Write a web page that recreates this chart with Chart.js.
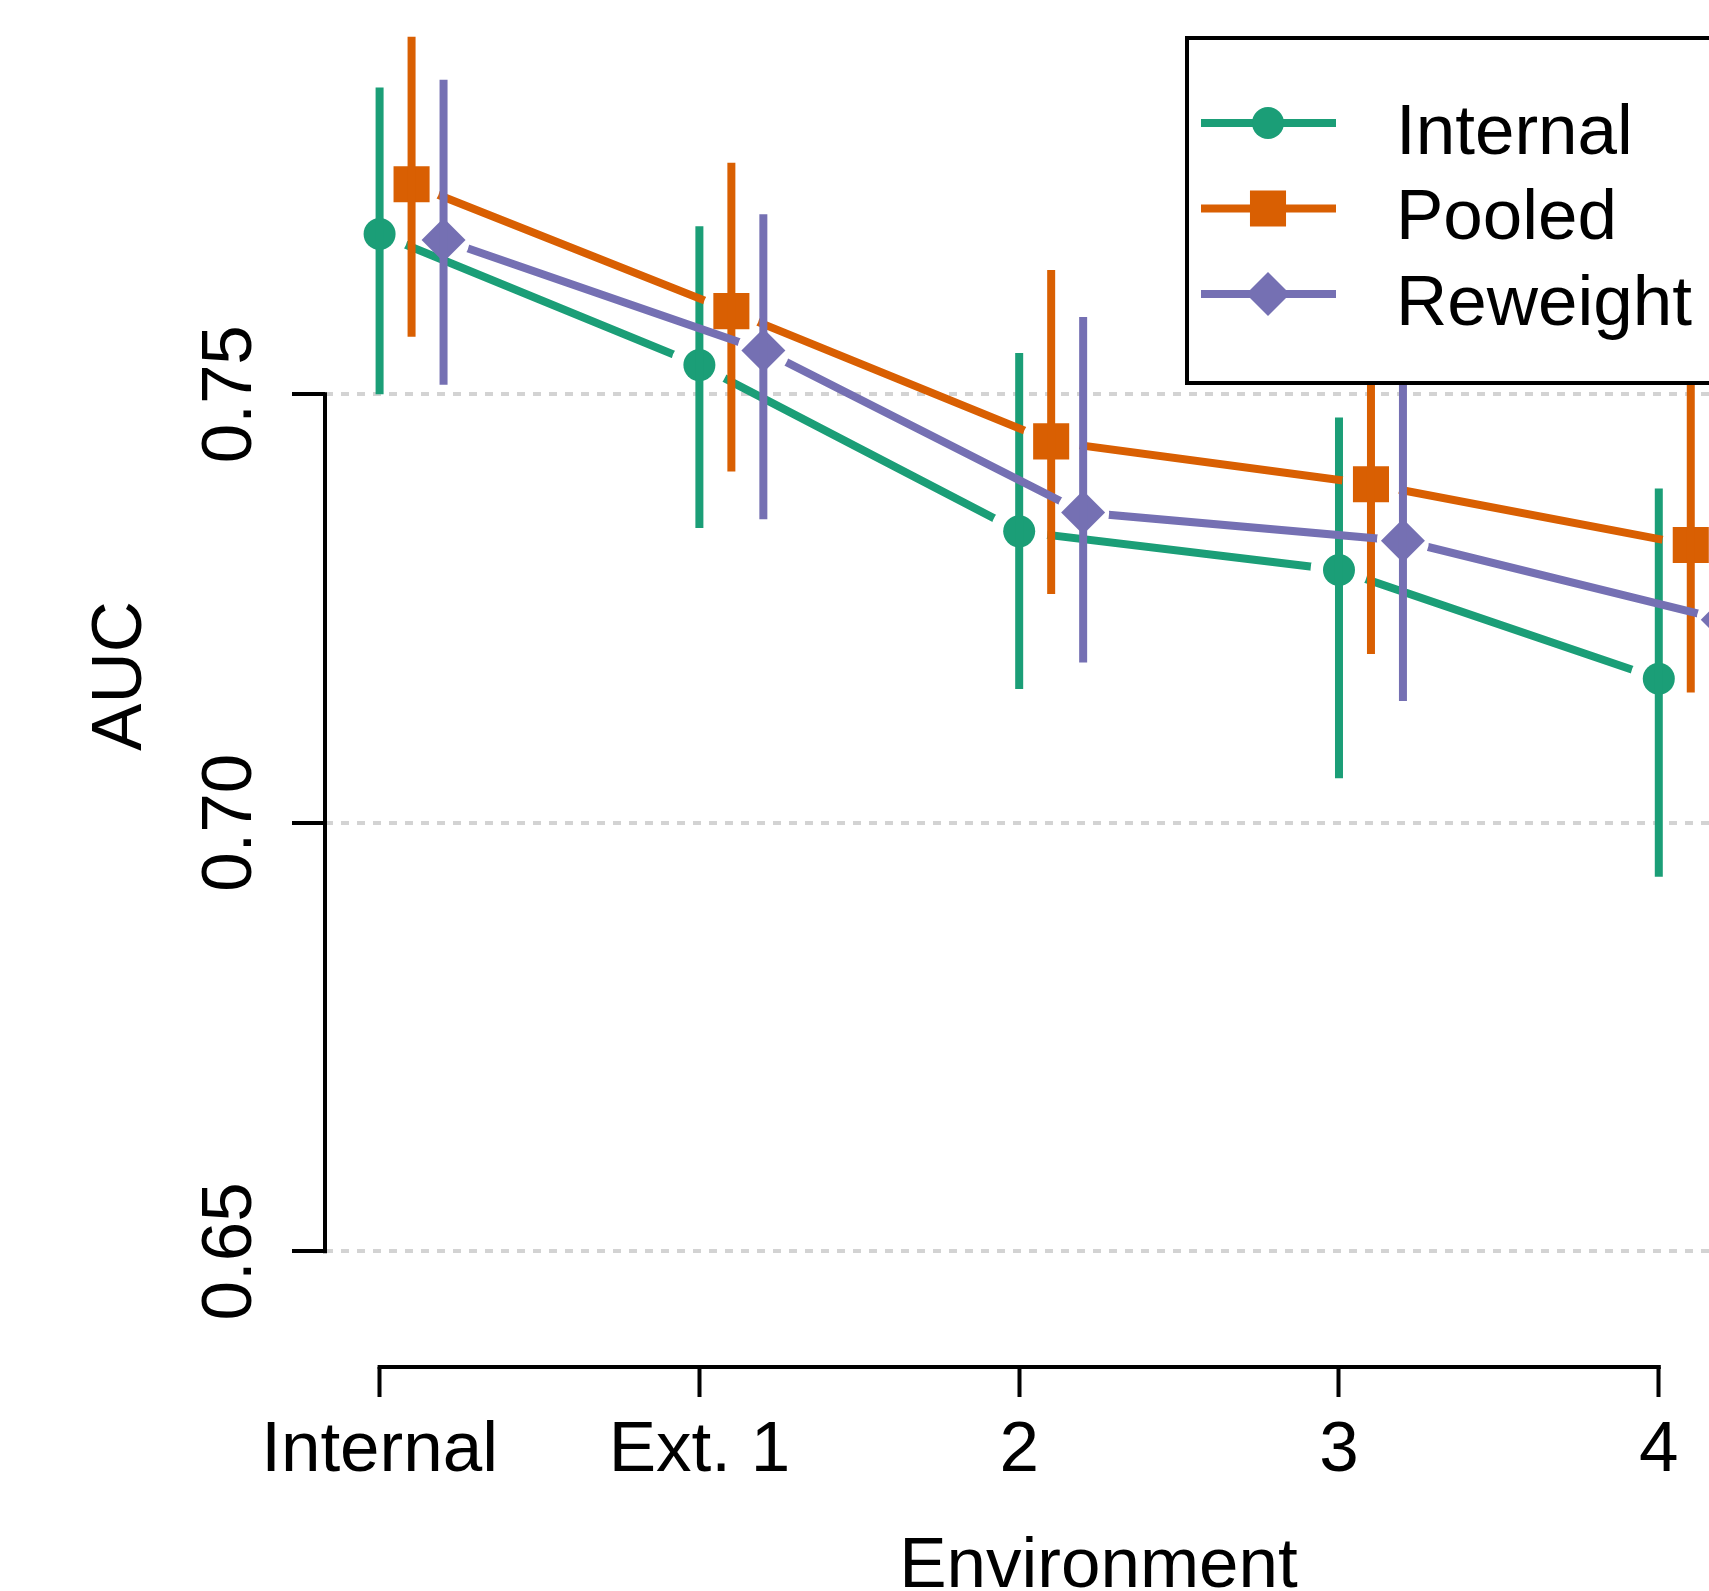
<!DOCTYPE html>
<html>
<head>
<meta charset="utf-8">
<title>AUC by environment</title>
<script src="https://cdn.jsdelivr.net/npm/chart.js@4.4.1/dist/chart.umd.min.js"></script>
<style>
  html, body { margin: 0; padding: 0; background: #fff; overflow: hidden; }
  #wrap { position: relative; width: 1709px; height: 1591px; overflow: hidden; background: #fff; }
  #auc-chart { position: absolute; left: 0; top: -15px; }
</style>
</head>
<body>
<div id="wrap"><canvas id="auc-chart" width="1900" height="1650"></canvas></div>
<script>
// categories on the x axis and the three models
var environments = ["Internal", "Ext. 1", "2", "3", "4"];
var modelNames = ["Internal", "Pooled", "Reweight"];
var yTickValues = [0.65, 0.70, 0.75];

// AUC with lower / upper interval
var internalAuc  = [0.7687, 0.7534, 0.7340, 0.7295, 0.7168];
var internalLow  = [0.7500, 0.7344, 0.7156, 0.7052, 0.6937];
var internalHigh = [0.7858, 0.7696, 0.7548, 0.7473, 0.7390];

var pooledAuc  = [0.7745, 0.7597, 0.7445, 0.7395, 0.7324];
var pooledLow  = [0.7567, 0.7410, 0.7267, 0.7197, 0.7152];
var pooledHigh = [0.7917, 0.7770, 0.7645, 0.7593, 0.7530];

var reweightAuc  = [0.7680, 0.7551, 0.7362, 0.7329, 0.7237];
var reweightLow  = [0.7511, 0.7354, 0.7187, 0.7142, 0.7050];
var reweightHigh = [0.7867, 0.7710, 0.7590, 0.7530, 0.7420];

var aucSeries  = [internalAuc, pooledAuc, reweightAuc];
var lowSeries  = [internalLow, pooledLow, reweightLow];
var highSeries = [internalHigh, pooledHigh, reweightHigh];

// styling
var colors = ["#1b9e77", "#d95f02", "#7570b3"];
var markerStyles = ["circle", "rect", "rectRot"];
var markerRadius = [16, 25.5, 22];
var gapRadius = [28.5, 29, 26];
var xShift = [0, 0.1, 0.2];
var fontFamily = "'Liberation Sans', Arial, Helvetica, sans-serif";

Chart.defaults.font.family = fontFamily;
Chart.defaults.font.size = 71;
Chart.defaults.color = "#000";

function points(s) {
    return aucSeries[s].map(function (v, i) {
        return { x: i + 1 + xShift[s], y: v };
    });
}

var datasets = [];
modelNames.forEach(function (name, s) {
    datasets.push({
        label: name, kind: "line", series: s,
        data: points(s),
        borderColor: colors[s], borderWidth: 8,
        pointRadius: 0, tension: 0, fill: false,
        order: 6 - 2 * s
    });
    datasets.push({
        label: name, kind: "marker", series: s,
        data: points(s),
        showLine: false,
        pointStyle: markerStyles[s], pointRadius: markerRadius[s],
        pointBackgroundColor: colors[s], pointBorderWidth: 0,
        order: 5 - 2 * s
    });
});

function drawMarker(ctx, style, x, y, r) {
    ctx.beginPath();
    if (style === "circle") {
        ctx.arc(x, y, r, 0, Math.PI * 2);
    } else if (style === "rect") {
        var h = r * Math.SQRT1_2;
        ctx.rect(x - h, y - h, 2 * h, 2 * h);
    } else {
        ctx.moveTo(x - r, y);
        ctx.lineTo(x, y - r);
        ctx.lineTo(x + r, y);
        ctx.lineTo(x, y + r);
        ctx.closePath();
    }
    ctx.fill();
}

// lines stop short of the points (R type="b"), error bars drawn per model
var errorBarPlugin = {
    id: "errorBars",
    beforeDatasetDraw: function (chart, args) {
        var ds = chart.data.datasets[args.index];
        if (ds.kind !== "line") return;
        var ctx = chart.ctx;
        var g = gapRadius[ds.series];
        ctx.save();
        ctx.beginPath();
        ctx.rect(0, 0, chart.width, chart.height);
        args.meta.data.forEach(function (pt) {
            ctx.moveTo(pt.x + g, pt.y);
            ctx.arc(pt.x, pt.y, g, 0, Math.PI * 2);
        });
        ctx.clip("evenodd");
    },
    afterDatasetDraw: function (chart, args) {
        var ds = chart.data.datasets[args.index];
        var ctx = chart.ctx;
        if (ds.kind === "line") {
            ctx.restore();
            return;
        }
        var s = ds.series;
        var xs = chart.scales.x, ys = chart.scales.y;
        ctx.save();
        ctx.strokeStyle = colors[s];
        ctx.lineWidth = 8;
        lowSeries[s].forEach(function (lo, i) {
            var px = xs.getPixelForValue(i + 1 + xShift[s]);
            ctx.beginPath();
            ctx.moveTo(px, ys.getPixelForValue(lo));
            ctx.lineTo(px, ys.getPixelForValue(highSeries[s][i]));
            ctx.stroke();
        });
        ctx.restore();
    },
    afterDraw: function (chart) {
        var ctx = chart.ctx;
        var xs = chart.scales.x, ys = chart.scales.y;
        var area = chart.chartArea;

        // axis lines only over the tick range
        ctx.save();
        ctx.strokeStyle = "#000";
        ctx.lineWidth = 4;
        ctx.lineCap = "square";
        ctx.beginPath();
        ctx.moveTo(area.left, ys.getPixelForValue(yTickValues[0]));
        ctx.lineTo(area.left, ys.getPixelForValue(yTickValues[yTickValues.length - 1]));
        ctx.moveTo(xs.getPixelForValue(1), area.bottom);
        ctx.lineTo(xs.getPixelForValue(environments.length), area.bottom);
        ctx.stroke();
        ctx.restore();

        // legend box
        var boxLeft = 1187, boxTop = 53, boxBottom = 398, boxRight = 1880;
        ctx.save();
        ctx.fillStyle = "#fff";
        ctx.fillRect(boxLeft, boxTop, boxRight - boxLeft, boxBottom - boxTop);
        ctx.strokeStyle = "#000";
        ctx.lineWidth = 4;
        ctx.strokeRect(boxLeft, boxTop, boxRight - boxLeft, boxBottom - boxTop);
        ctx.font = "71px " + fontFamily;
        ctx.textBaseline = "alphabetic";
        ctx.textAlign = "left";
        modelNames.forEach(function (name, s) {
            var rowY = 138 + s * 85.5;
            ctx.strokeStyle = colors[s];
            ctx.fillStyle = colors[s];
            ctx.lineWidth = 8;
            ctx.beginPath();
            ctx.moveTo(1201, rowY);
            ctx.lineTo(1336, rowY);
            ctx.stroke();
            drawMarker(ctx, markerStyles[s], 1268, rowY, markerRadius[s]);
            ctx.fillStyle = "#000";
            ctx.fillText(name, 1396, rowY + 30.5);
        });
        ctx.restore();
    }
};

var ctx = document.getElementById("auc-chart").getContext("2d");
var aucChart = new Chart(ctx, {
    type: "line",
    data: { datasets: datasets },
    plugins: [errorBarPlugin],
    options: {
        responsive: false,
        animation: false,
        events: [],
        layout: { autoPadding: false, padding: { left: 0, top: 0, right: 28, bottom: 0 } },
        plugins: {
            legend: { display: false },
            tooltip: { enabled: false }
        },
        scales: {
            x: {
                type: "linear",
                min: 0.8293,
                max: 5.6667,
                afterBuildTicks: function (scale) {
                    scale.ticks = environments.map(function (e, i) { return { value: i + 1 }; });
                },
                afterFit: function (scale) {
                    scale.height = 268;
                    scale.paddingLeft = 0;
                    scale.paddingRight = 0;
                },
                ticks: {
                    autoSkip: false, minRotation: 0, maxRotation: 0, padding: 12,
                    color: "#000",
                    callback: function (v) { return environments[Math.round(v) - 1]; }
                },
                grid: { drawOnChartArea: false, drawTicks: true, tickLength: 30, tickWidth: 4, tickColor: "#000" },
                border: { display: false },
                title: { display: true, text: "Environment", color: "#000", padding: { top: 0, bottom: 25 } }
            },
            y: {
                type: "linear",
                min: 0.6365,
                max: 0.79775,
                afterBuildTicks: function (scale) {
                    scale.ticks = yTickValues.map(function (v) { return { value: v }; });
                },
                afterFit: function (scale) {
                    scale.width = 325;
                    scale.paddingTop = 0;
                    scale.paddingBottom = 0;
                },
                ticks: {
                    minRotation: 90, maxRotation: 90, crossAlign: "center", padding: -9,
                    color: "#000",
                    // small line height keeps the rotated labels from padding the chart area
                    font: { size: 71, lineHeight: 0.2 },
                    callback: function (v) { return v.toFixed(2); }
                },
                grid: { color: "#d3d3d3", lineWidth: 4, drawTicks: true, tickLength: 33, tickWidth: 4, tickColor: "#000" },
                border: { display: false, dash: [8, 8] },
                title: { display: true, text: "AUC", color: "#000", padding: { top: 79, bottom: 0 } }
            }
        }
    }
});
</script>
</body>
</html>
